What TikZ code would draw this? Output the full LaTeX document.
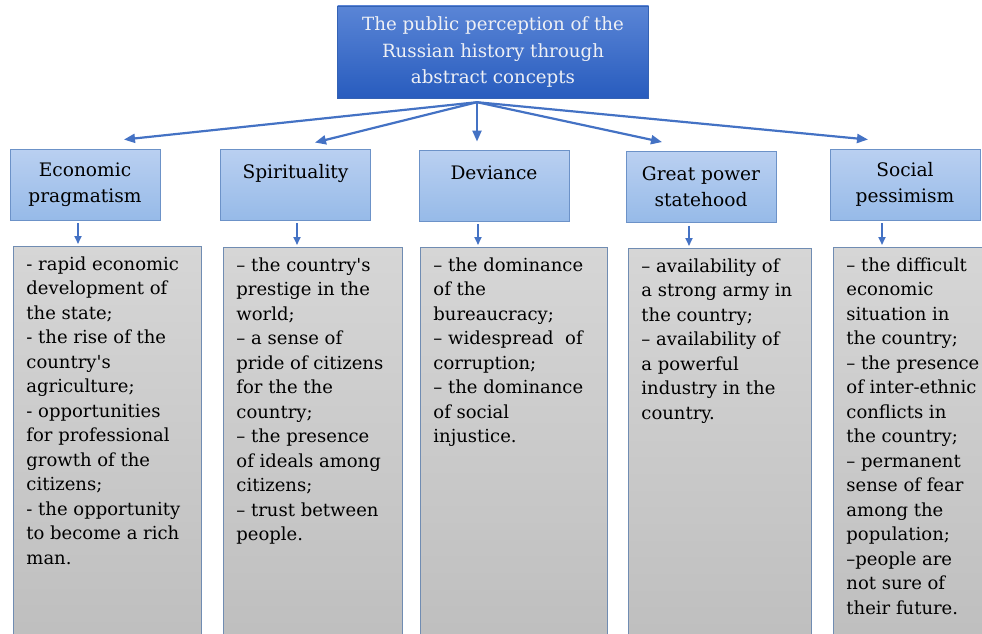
\documentclass[tikz,border=0pt]{standalone}
\usepackage{fontspec}
\setmainfont{DejaVu Serif}
\usetikzlibrary{arrows.meta,positioning,calc}
\definecolor{arrblue}{RGB}{68,114,196}
\definecolor{toptop}{RGB}{90,133,214}
\definecolor{topbot}{RGB}{40,92,190}
\definecolor{topedge}{RGB}{52,98,180}
\definecolor{cattop}{RGB}{186,208,241}
\definecolor{catbot}{RGB}{150,186,232}
\definecolor{catedge}{RGB}{108,146,200}
\definecolor{listtop}{RGB}{214,214,214}
\definecolor{listbot}{RGB}{190,190,190}
\definecolor{listedge}{RGB}{112,140,178}
\newcommand{\itemlist}[2]{\parbox[t][380pt][t]{#1}{\raggedright #2}}
\newcommand{\apos}{\textquotesingle}
\tikzset{
    topbox/.style={draw=topedge, top color=toptop, bottom color=topbot, text={rgb,255:red,238;green,240;blue,245},
      minimum width=311pt, minimum height=92pt, align=center, font=\fontsize{18.2}{26.5}\selectfont},
    catbox/.style={draw=catedge, line width=0.9pt, top color=cattop, bottom color=catbot,
      minimum width=150pt, minimum height=71pt, align=center, font=\fontsize{18.6}{26}\selectfont},
    listbox/.style={draw=listedge, line width=0.9pt, top color=listtop, bottom color=listbot, anchor=north west,
      inner xsep=13pt, inner ysep=10pt, font=\fontsize{18}{24.5}\selectfont},
    arr/.style={draw=arrblue, line width=2.2pt, -{Triangle[length=11pt,width=9pt]}},
    arrshort/.style={draw=arrblue, line width=1.8pt, -{Triangle[length=8pt,width=7pt]}, shorten <=3pt, shorten >=2pt},
  }
\begin{document}
\begin{tikzpicture}[x=1pt,y=-1pt]
  \useasboundingbox (0,0) rectangle (982,634);

  %TITRE
  \node[topbox] (top) at (493,52) {The public perception of the\\Russian history through\\abstract concepts};
  \coordinate (hub) at ([shift={(-16,4)}]top.south);

  %CONCEPTS
  \node[catbox] (c1) at (85,184.5) {Economic\\pragmatism};
  \node[catbox] (c2) at (295.5,184.5) {Spirituality\\\mbox{}};
  \node[catbox] (c3) at (494,185.5) {Deviance\\\mbox{}};
  \node[catbox] (c4) at (701,187) {Great power\\statehood};
  \node[catbox] (c5) at (905,184.5) {Social\\pessimism};

  %LISTES
  \node[listbox] (g1) at (13,246) {\itemlist{162pt}{- rapid economic\\development of\\the state;\\- the rise of the\\country\apos s\\agriculture;\\- opportunities\\for professional\\growth of the\\citizens;\\- the opportunity\\to become a rich\\man.}};
  \node[listbox] (g2) at (223,247) {\itemlist{153pt}{-- the country\apos s\\prestige in the\\world;\\-- a sense of\\pride of citizens\\for the the\\country;\\-- the presence\\of ideals among\\citizens;\\-- trust between\\people.}};
  \node[listbox] (g3) at (420,247) {\itemlist{161pt}{-- the dominance\\of the\\bureaucracy;\\-- widespread\ \ of\\corruption;\\-- the dominance\\of social\\injustice.}};
  \node[listbox] (g4) at (628,248) {\itemlist{157pt}{-- availability of\\a strong army in\\the country;\\-- availability of\\a powerful\\industry in the\\country.}};
  \node[listbox] (g5) at (833,247) {\itemlist{160pt}{-- the difficult\\economic\\situation in\\the country;\\-- the presence\\of inter-ethnic\\conflicts in\\the country;\\-- permanent\\sense of fear\\among the\\population;\\--people are\\not sure of\\their future.}};

  %FLECHES
  \draw[arr] (hub) -- ([shift={(39,-9)}]c1.north);
  \draw[arr] (hub) -- ([shift={(19.5,-6)}]c2.north);
  \draw[arr] (hub) -- ([shift={(-17,-8)}]c3.north);
  \draw[arr] (hub) -- ([shift={(-39,-9)}]c4.north);
  \draw[arr] (hub) -- ([shift={(-37,-9)}]c5.north);

  \draw[arrshort] ([xshift=-7pt]c1.south) -- ([xshift=-7pt]c1.south |- g1.north);
  \draw[arrshort] ([xshift=1.5pt]c2.south) -- ([xshift=1.5pt]c2.south |- g2.north);
  \draw[arrshort] ([xshift=-16pt]c3.south) -- ([xshift=-16pt]c3.south |- g3.north);
  \draw[arrshort] ([xshift=-12pt]c4.south) -- ([xshift=-12pt]c4.south |- g4.north);
  \draw[arrshort] ([xshift=-23pt]c5.south) -- ([xshift=-23pt]c5.south |- g5.north);
\end{tikzpicture}
\end{document}
